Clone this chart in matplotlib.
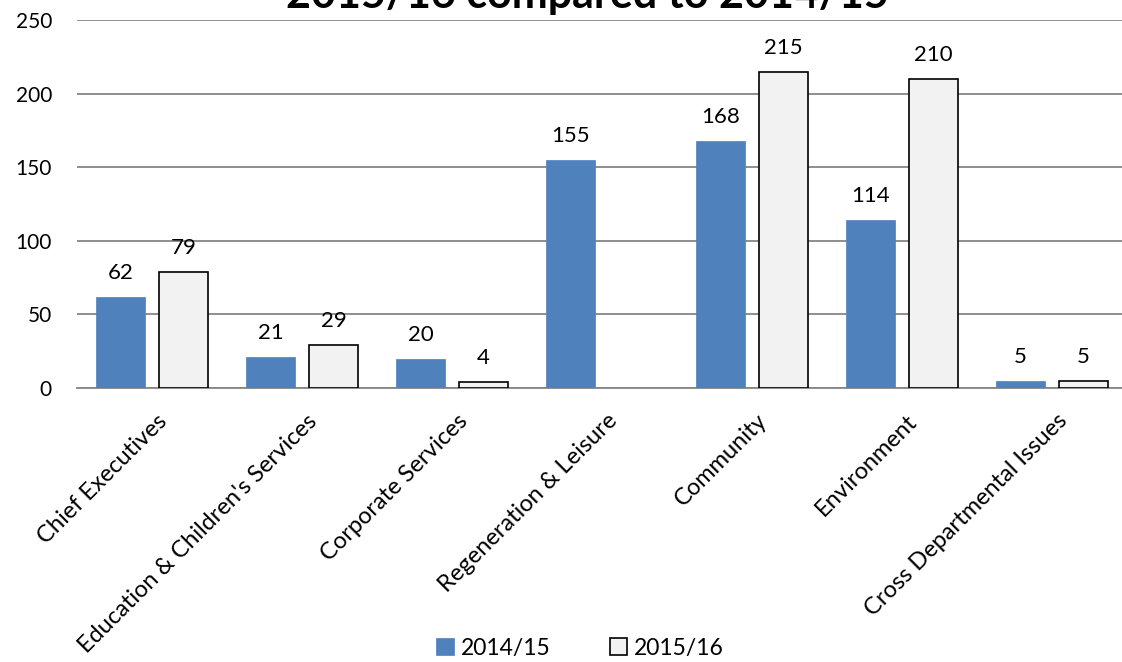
import matplotlib
matplotlib.use("Agg")
import matplotlib.pyplot as plt
import numpy as np

categories = ["Chief Executives", "Education & Children's Services", "Corporate Services",
              "Regeneration & Leisure", "Community", "Environment", "Cross Departmental Issues"]
vals_1415 = [62, 21, 20, 155, 168, 114, 5]
vals_1516 = [79, 29, 4, None, 215, 210, 5]
series_names = ["2014/15", "2015/16"]
title = "2015/16 compared to 2014/15"

plt.rcParams['font.family'] = ['Lato', 'DejaVu Sans']

W, H = 1122, 662
fig = plt.figure(figsize=(W / 100, H / 100), dpi=100)
ax = fig.add_axes([77 / W, 1 - 388 / H, 1 - 77 / W, (388 - 20) / H])

x = np.arange(len(categories))
bw = 0.333
off = 0.21
blue = "#4F81BD"
light = "#F2F2F2"

y1 = np.array(vals_1415, dtype=float)
y2 = np.array([np.nan if v is None else v for v in vals_1516], dtype=float)

b1 = ax.bar(x - off, y1, bw, color=blue, edgecolor=blue, linewidth=0.5, label=series_names[0], zorder=3)
b2 = ax.bar(x + off, np.nan_to_num(y2), bw, color=light, edgecolor="black", linewidth=1.2,
            label=series_names[1], zorder=3)
for i, v in enumerate(y2):
    if np.isnan(v):
        b2[i].set_visible(False)

for xi, v in zip(x - off, y1):
    ax.annotate(f"{int(v)}", (xi, v), xytext=(0, 10), textcoords="offset points",
                ha="center", va="bottom", fontsize=16)
for xi, v in zip(x + off, y2):
    if not np.isnan(v):
        ax.annotate(f"{int(v)}", (xi, v), xytext=(0, 10), textcoords="offset points",
                    ha="center", va="bottom", fontsize=16)

ax.set_ylim(0, 250)
ax.set_yticks([0, 50, 100, 150, 200, 250])
ax.set_xlim(-0.5, 6.5 - 5 / 150)
ax.yaxis.grid(True, color="#868686", linewidth=1.3, zorder=0)
ax.set_axisbelow(True)
for s in ["left", "right", "top"]:
    ax.spines[s].set_visible(False)
ax.spines["bottom"].set_color("#868686")
ax.spines["bottom"].set_linewidth(1.3)
ax.tick_params(axis="y", length=0, pad=18, labelsize=15)
ax.tick_params(axis="x", length=0, pad=16, labelsize=17)
ax.set_xticks(x + 0.03)
ax.set_xticklabels(categories, rotation=45, ha="right", va="top", rotation_mode="anchor")

fig.text(587 / W, 1 - 8 / H, title, ha="center", va="baseline", fontsize=31, fontweight="bold")

fig.legend(handles=[b1, b2], labels=series_names, loc="center", bbox_to_anchor=(580 / W, 1 - 648 / H),
           ncol=2, frameon=False, fontsize=16.5, handlelength=0.75, handleheight=0.75,
           columnspacing=2.6, handletextpad=0.3)

fig.savefig("out.png", dpi=100)
